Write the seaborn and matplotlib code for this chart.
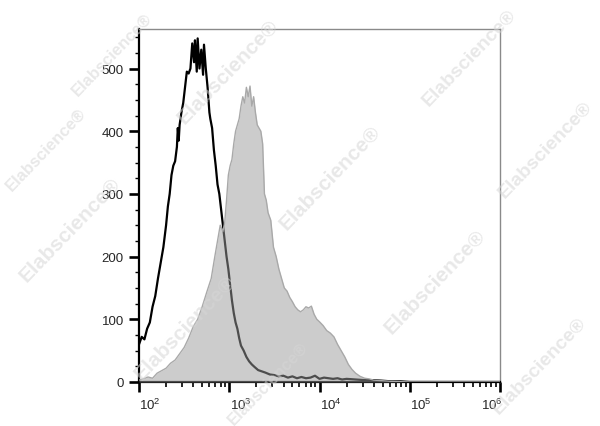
import numpy as np
import pandas as pd
import matplotlib
matplotlib.use("Agg")
import matplotlib.pyplot as plt
import matplotlib.ticker as mticker
import matplotlib.transforms as mtrans
import seaborn as sns

# ── Data (x in log10 units) ──────────────────────────────────────────────────
ctrl_log = [2.00, 2.03, 2.06, 2.09, 2.12, 2.15, 2.18, 2.21, 2.24, 2.27,
            2.30, 2.32, 2.34, 2.36, 2.38, 2.40, 2.42, 2.43, 2.44, 2.45,
            2.47, 2.49, 2.51, 2.53, 2.55, 2.57, 2.59, 2.61, 2.62, 2.64,
            2.65, 2.67, 2.69, 2.71, 2.72, 2.74, 2.76, 2.78, 2.79, 2.81,
            2.83, 2.85, 2.87, 2.89, 2.91, 2.93, 2.95, 2.97, 2.99, 3.01,
            3.03, 3.05, 3.07, 3.09, 3.11, 3.13, 3.16, 3.19, 3.22, 3.25,
            3.28, 3.32, 3.36, 3.40, 3.45, 3.50, 3.55, 3.60, 3.65, 3.70,
            3.75, 3.80, 3.85, 3.90, 3.95, 4.00, 4.05, 4.10, 4.15, 4.20,
            4.25, 4.30, 4.40, 4.50, 4.60, 4.70, 4.80, 4.90, 5.00, 6.00]
ctrl_count = [60, 72, 68, 85, 95, 120, 137, 165, 190, 215,
              250, 280, 300, 330, 345, 352, 375, 405, 385, 410,
              430, 445, 470, 495, 492, 500, 540, 510, 545, 495,
              548, 500, 530, 490, 538, 500, 470, 430, 420, 405,
              370, 345, 315, 300, 275, 250, 225, 200, 180, 155,
              130, 110, 95, 85, 70, 58, 50, 40, 33, 28,
              24, 19, 17, 15, 12, 11, 9, 10, 7, 9,
              6, 8, 6, 7, 10, 5, 7, 6, 5, 6,
              4, 5, 4, 3, 3, 2, 1, 1, 0, 0]

stain_log = [2.00, 2.05, 2.10, 2.15, 2.20, 2.25, 2.30, 2.35, 2.40, 2.45,
             2.50, 2.55, 2.60, 2.65, 2.70, 2.75, 2.80, 2.84, 2.87, 2.90,
             2.93, 2.95, 2.97, 2.99, 3.01, 3.03, 3.05, 3.07, 3.09, 3.11,
             3.13, 3.15, 3.17, 3.19, 3.21, 3.23, 3.25, 3.27, 3.29, 3.31,
             3.33, 3.35, 3.37, 3.39, 3.41, 3.43, 3.46, 3.49, 3.52, 3.55,
             3.58, 3.61, 3.64, 3.67, 3.70, 3.73, 3.76, 3.79, 3.82, 3.85,
             3.88, 3.91, 3.94, 3.97, 4.00, 4.04, 4.08, 4.12, 4.16, 4.20,
             4.24, 4.28, 4.32, 4.36, 4.40, 4.45, 4.50, 4.55, 4.60, 4.70,
             4.80, 5.00, 6.00]
stain_count = [3, 5, 8, 6, 14, 18, 22, 30, 35, 45,
               55, 70, 88, 100, 120, 143, 165, 200, 225, 250,
               240, 255, 290, 330, 345, 355, 380, 400, 410, 420,
               440, 455, 445, 470, 455, 472, 440, 455, 430, 410,
               405, 400, 380, 300, 290, 270, 258, 215, 200, 180,
               165, 150, 145, 135, 128, 120, 115, 112, 115, 120,
               118, 121, 108, 100, 96, 90, 82, 78, 72, 60,
               50, 40, 28, 20, 14, 9, 6, 5, 3, 2,
               1, 0, 0]

x_ticks = [1e2, 1e3, 1e4, 1e5, 1e6]
y_ticks = [0, 100, 200, 300, 400, 500]

watermark = "Elabscience®"
# (x px, y px, size) — edge copies pulled inside the canvas
wm_pos = [(228, 72, 15), (330, 178, 15), (435, 282, 15), (540, 366, 14),
          (70, 230, 15), (185, 328, 15), (112, 55, 12), (46, 150, 12),
          (268, 384, 12), (470, 58, 14), (546, 150, 14)]

# ── Style ────────────────────────────────────────────────────────────────────
sns.set_style("ticks")
plt.rcParams["font.family"] = ["Liberation Sans", "DejaVu Sans"]
plt.rcParams["mathtext.fontset"] = "custom"
plt.rcParams["mathtext.rm"] = "Liberation Sans"
plt.rcParams["mathtext.it"] = "Liberation Sans:italic"

ctrl = pd.DataFrame({"fl": 10 ** np.array(ctrl_log), "count": ctrl_count})
stain = pd.DataFrame({"fl": 10 ** np.array(stain_log), "count": stain_count})

fig = plt.figure(figsize=(6, 4.27), dpi=100)
ax = fig.add_axes([139 / 600, 1 - 383 / 427, 361 / 600, 353 / 427])
ax.set_xscale("log")

sns.lineplot(data=ctrl, x="fl", y="count", color="black", lw=1.6,
             ax=ax, zorder=2, sort=False)
ax.fill_between(stain["fl"], stain["count"], color="#9a9a9a", alpha=0.5,
                lw=0, zorder=3)
sns.lineplot(data=stain, x="fl", y="count", color="#a9a9a9", lw=1.0,
             ax=ax, zorder=4, sort=False)

ax.set_xlim(1e2, 1e6)
ax.set_ylim(0, 563)
ax.set(xlabel="", ylabel="")

ax.xaxis.set_major_locator(mticker.FixedLocator(x_ticks))
ax.xaxis.set_minor_locator(mticker.LogLocator(base=10, subs=range(2, 10)))
ax.xaxis.set_minor_formatter(mticker.NullFormatter())
ax.xaxis.set_major_formatter(mticker.LogFormatterSciNotation())
ax.yaxis.set_major_locator(mticker.FixedLocator(y_ticks))
ax.yaxis.set_minor_locator(mticker.MultipleLocator(25))

ax.tick_params(axis="both", which="major", direction="out", length=7,
               width=1.9, color="black", pad=4)
ax.tick_params(axis="y", which="major", labelsize=9.5)
ax.tick_params(axis="x", which="major", labelsize=9.5)
ax.tick_params(axis="x", which="minor", direction="out", length=3.5,
               width=1.2, color="black")
ax.tick_params(axis="y", which="minor", direction="out", length=3,
               width=1.0, color="black")

for side in ["left", "bottom"]:
    ax.spines[side].set_color("black")
    ax.spines[side].set_linewidth(1.6)
for side in ["top", "right"]:
    ax.spines[side].set_color("#8a8a8a")
    ax.spines[side].set_linewidth(1.0)

# labels in the reference sit a little right of their ticks
fig.canvas.draw()
for i, lab in enumerate(ax.get_xticklabels()):
    dx = -6 if i == len(x_ticks) - 1 else 8
    lab.set_transform(lab.get_transform() +
                      mtrans.ScaledTranslation(dx / 72, 0, fig.dpi_scale_trans))

# ── Watermarks ───────────────────────────────────────────────────────────────
for (px, py, fs) in wm_pos:
    fig.text(px / 600, 1 - py / 427, watermark, fontsize=fs,
             fontweight="bold", color="#d6d6d6", alpha=0.55, rotation=46,
             ha="center", va="center", rotation_mode="anchor", zorder=10)

plt.savefig("out.png", dpi=100)
plt.close()
